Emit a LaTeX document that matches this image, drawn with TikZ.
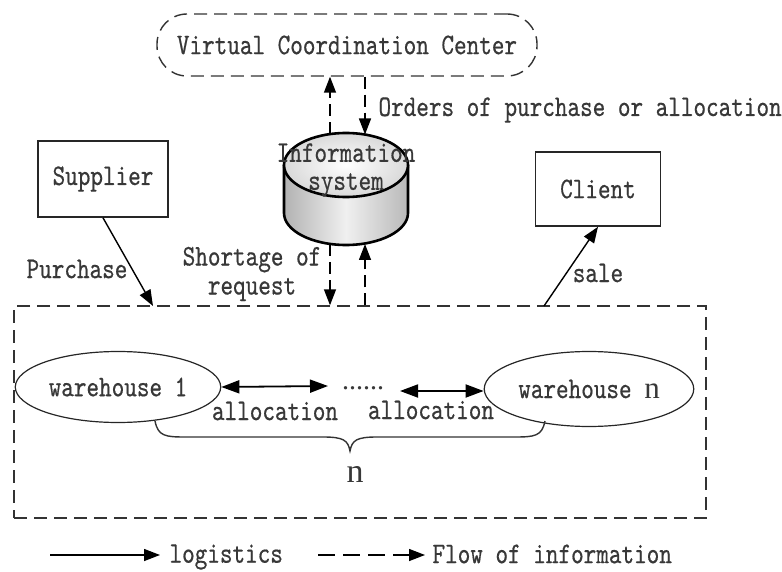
\documentclass[tikz,border=0pt]{standalone}
\usepackage{fontspec}
\setmonofont{lmmono10-regular.otf}[FakeStretch=0.8,FakeBold=0.5]
\newfontfamily\letterfont{Liberation Serif}
\usetikzlibrary{arrows.meta,shapes.geometric}
\begin{document}
\begin{tikzpicture}[x=1pt,y=-1pt,
  font=\fontsize{30}{28}\selectfont\ttfamily,
  every node/.style={text=black!78},
  box/.style={draw=black!85, line width=1.6pt},
  headtip/.style={-{Triangle[length=16pt,width=12pt]}},
  info/.style={headtip, line width=1.4pt, dash pattern=on 12pt off 6pt},
  logi/.style={headtip, line width=1.4pt},
  both/.style={{Triangle[length=18pt,width=13pt]}-{Triangle[length=18pt,width=13pt]}, line width=1.8pt},
  dashedframe/.style={draw=black!80, line width=1.4pt, dash pattern=on 13pt off 7pt}]

\useasboundingbox (0,0) rectangle (782,572);

% coordination centre and the two outer parties
\node[dashedframe, rounded corners=30pt, minimum width=380pt, minimum height=62pt] (vcc) at (347,45) {Virtual Coordination Center};
\node[box, minimum width=130pt, minimum height=76pt] (supplier) at (103,179) {Supplier};
\node[box, minimum width=125pt, minimum height=74pt] (client) at (598,189) {Client};

% storage network frame
\node[dashedframe, minimum width=692pt, minimum height=212pt] (store) at (360,412) {};

% information system drum
\shade[left color=gray!60, right color=gray!55, middle color=gray!12]
  (284,165) -- (284,213) arc[start angle=180, end angle=0, x radius=62, y radius=32] -- (408,165) -- cycle;
\draw[line width=2.6pt] (284,165) -- (284,213) arc[start angle=180, end angle=0, x radius=62, y radius=32] -- (408,165);
\shade[inner color=white, outer color=gray!30] (346,165) ellipse[x radius=62, y radius=32];
\draw[line width=2.6pt] (346,165) ellipse[x radius=62, y radius=32];
\node[align=center, inner sep=0pt, font=\fontsize{30}{28}\selectfont\ttfamily] (infosys) at (346,170) {Information\\system};

\coordinate (topL) at (330,134);
\coordinate (topR) at (365,134.5);
\coordinate (botL) at (330,244);
\coordinate (botR) at (365,244);

% information flows
\draw[info] (topL) -- (vcc.south -| topL);
\draw[info] (vcc.south -| topR) -- (topR);
\node[anchor=west] (orders) at (375,110) {Orders of purchase or allocation};
\draw[info] (botL) -- (store.north -| botL);
\draw[info] (store.north -| botR) -- (botR);
\node[align=center, font=\fontsize{30}{29}\selectfont\ttfamily] (shortage) at (252,274) {Shortage of\\request};

% goods flows
\coordinate (purchEnd) at (153,306);
\coordinate (saleStart) at (544,306);
\draw[logi] (supplier.south) -- (purchEnd);
\node (purchase) at (77,269) {Purchase};
\draw[logi] (saleStart) -- (client.south);
\node (sale) at (598,273) {sale};

% warehouses
\node[draw=black!85, line width=1.2pt, ellipse, minimum width=194pt, minimum height=71pt] (wh1) at (118,387) {warehouse 1};
\node[draw=black!85, line width=1.2pt, ellipse, minimum width=202pt, minimum height=75pt] (whn) at (589,389) {warehouse {\letterfont\fontsize{31}{31}\selectfont n}};
\node[font=\letterfont\fontsize{28}{28}\selectfont, inner sep=0pt] (dots) at (363,388) {......};
\coordinate (arrAend) at (328,386);
\coordinate (arrBstart) at (400,391);
\draw[both] (wh1.east) -- (arrAend);
\draw[both] (arrBstart) -- (whn.west |- arrBstart);
\node (alloc1) at (275,411) {allocation};
\node (alloc2) at (431,410) {allocation};

% brace grouping the n warehouses
\draw[line width=1.4pt, black!80] (155,421) .. controls (158,436) and (165,437) .. (185,437) -- (323,437)
  .. controls (343,437) and (348,440) .. (350,451)
  .. controls (352,440) and (357,437) .. (377,437) -- (515,437)
  .. controls (535,437) and (542,436) .. (545,421);
\node[font=\letterfont\fontsize{34}{34}\selectfont] (count) at (355,474) {n};

% legend
\coordinate (lgA) at (50,555);
\coordinate (lgB) at (160,555);
\coordinate (lgC) at (318,555);
\coordinate (lgD) at (425,555);
\draw[logi] (lgA) -- (lgB);
\node[anchor=west] (lglog) at (166,557) {logistics};
\draw[info, dash pattern=on 17pt off 8pt] (lgC) -- (lgD);
\node[anchor=west] (lginfo) at (429,554) {Flow of information};
\end{tikzpicture}
\end{document}
